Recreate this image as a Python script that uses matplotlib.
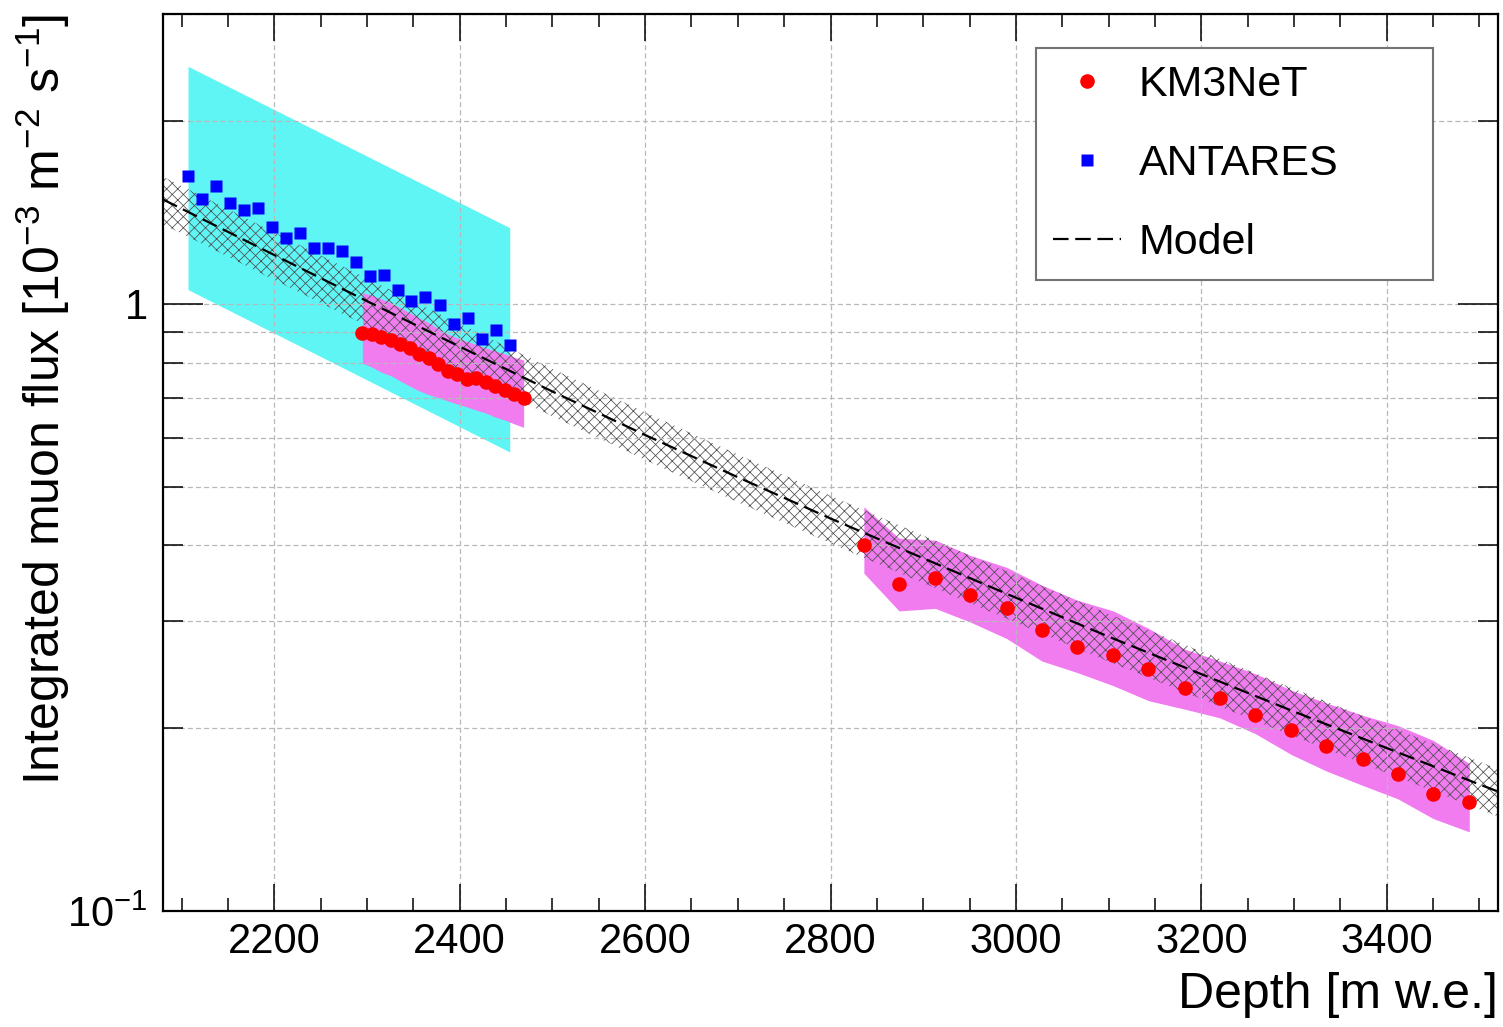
import matplotlib
matplotlib.use('Agg')
import matplotlib.pyplot as plt
from matplotlib.ticker import FixedLocator, FixedFormatter, NullFormatter

plt.rcParams['font.family'] = ['Liberation Sans', 'DejaVu Sans']
plt.rcParams['mathtext.fontset'] = 'custom'
plt.rcParams['mathtext.rm'] = 'Liberation Sans'
plt.rcParams['mathtext.it'] = 'Liberation Sans:italic'
plt.rcParams['mathtext.bf'] = 'Liberation Sans:bold'
plt.rcParams['hatch.linewidth'] = 0.55

# ---------------- data ----------------
# ANTARES
antares_depth = [2107, 2122, 2137, 2152, 2167, 2182, 2198, 2213, 2228, 2243, 2258, 2273,
                 2288, 2303, 2318, 2333, 2348, 2363, 2379, 2394, 2409, 2424, 2439, 2454]
antares_flux = [1.623, 1.489, 1.562, 1.463, 1.426, 1.439, 1.339, 1.282, 1.308, 1.234, 1.234, 1.220,
                1.170, 1.109, 1.115, 1.055, 1.009, 1.024, 0.994, 0.926, 0.947, 0.876, 0.904, 0.856]
antares_band_depth = [2107, 2454]
antares_band_low = [1.055, 0.570]
antares_band_high = [2.46, 1.334]

# KM3NeT (ORCA part)
orca_depth = [2295, 2305, 2315, 2326, 2336, 2346, 2356, 2367, 2377, 2387, 2397, 2408,
              2418, 2428, 2438, 2449, 2459, 2469]
orca_flux = [0.895, 0.891, 0.882, 0.870, 0.859, 0.846, 0.827, 0.814, 0.796, 0.776, 0.767, 0.753,
             0.755, 0.744, 0.731, 0.721, 0.710, 0.699]
orca_low = [0.799, 0.787, 0.772, 0.761, 0.746, 0.732, 0.719, 0.708, 0.700, 0.692, 0.684, 0.676,
            0.668, 0.661, 0.651, 0.643, 0.634, 0.626]
orca_high = [1.043, 1.033, 1.019, 1.004, 0.985, 0.966, 0.948, 0.930, 0.909, 0.892, 0.879, 0.867,
             0.857, 0.846, 0.836, 0.827, 0.816, 0.808]

# KM3NeT (ARCA part)
arca_depth = [2836, 2874, 2913, 2951, 2990, 3028, 3066, 3105, 3143, 3182, 3220, 3258,
              3297, 3335, 3374, 3412, 3450, 3489]
arca_flux = [0.400, 0.345, 0.353, 0.331, 0.315, 0.290, 0.272, 0.264, 0.250, 0.233, 0.224, 0.210,
             0.199, 0.187, 0.178, 0.168, 0.156, 0.151]
arca_low = [0.360, 0.312, 0.315, 0.299, 0.281, 0.258, 0.247, 0.235, 0.222, 0.215, 0.208, 0.196,
            0.181, 0.170, 0.161, 0.153, 0.142, 0.135]
arca_high = [0.463, 0.411, 0.408, 0.385, 0.368, 0.344, 0.325, 0.312, 0.292, 0.270, 0.258, 0.246,
             0.231, 0.220, 0.210, 0.202, 0.191, 0.175]

# Model
model_depth = [2080, 2100, 2200, 2300, 2400, 2500, 2600, 2700, 2800, 2900, 3000, 3100,
               3200, 3300, 3400, 3500, 3520]
model_flux = [1.485, 1.434, 1.203, 1.010, 0.850, 0.717, 0.608, 0.518, 0.443, 0.381, 0.328, 0.283,
              0.2455, 0.213, 0.1855, 0.1616, 0.1573]
model_rel_unc = [0.09] * len(model_depth)

# axis ticks / labels
x_ticks = [2200, 2400, 2600, 2800, 3000, 3200, 3400]
x_minor_ticks = list(range(2100, 3520, 50))
y_ticks = [0.1, 1]
y_tick_labels = [r'$10^{-1}$', '1']
y_minor_ticks = [0.2, 0.3, 0.4, 0.5, 0.6, 0.7, 0.8, 0.9, 2, 3]

# ---------------- plot ----------------
W, H = 1503, 1027
fig = plt.figure(figsize=(W / 100, H / 100), dpi=100)
ax = fig.add_axes([163 / W, (H - 911) / H, 1335 / W, 897 / H])

cyan = '#5ff5f5'
magenta = '#f07cf0'

ax.fill_between(antares_band_depth, antares_band_low, antares_band_high,
                color=cyan, lw=0, zorder=1)
ax.fill_between(orca_depth, orca_low, orca_high, color=magenta, lw=0, zorder=1.1)
ax.fill_between(arca_depth, arca_low, arca_high, color=magenta, lw=0, zorder=1.1)

model_low = [m * (1 - u) for m, u in zip(model_flux, model_rel_unc)]
model_high = [m * (1 + u) for m, u in zip(model_flux, model_rel_unc)]
ax.fill_between(model_depth, model_low, model_high, facecolor='none',
                edgecolor='0.3', hatch='xxx', lw=0, zorder=1.5)

h_model, = ax.plot(model_depth, model_flux, color='black', ls=(0, (7, 3)), lw=1.6,
                   zorder=2.6, label='Model')
h_km3, = ax.plot(orca_depth + arca_depth, orca_flux + arca_flux, 'o', color='red',
                 ms=10.5, mec='none', zorder=4, label='KM3NeT')
h_ant, = ax.plot(antares_depth, antares_flux, 's', color='blue', ms=9, mec='none',
                 zorder=3.5, label='ANTARES')

ax.set_xlim(2080, 3520)
ax.set_yscale('log')
ax.set_ylim(0.1, 3.0)

ax.xaxis.set_major_locator(FixedLocator(x_ticks))
ax.xaxis.set_minor_locator(FixedLocator(x_minor_ticks))
ax.yaxis.set_major_locator(FixedLocator(y_ticks))
ax.yaxis.set_major_formatter(FixedFormatter(y_tick_labels))
ax.yaxis.set_minor_locator(FixedLocator(y_minor_ticks))
ax.yaxis.set_minor_formatter(NullFormatter())

ax.tick_params(axis='x', which='major', direction='in', length=19.4, width=1.1,
               top=True, bottom=True, labelsize=30, pad=8)
ax.tick_params(axis='x', which='minor', direction='in', length=9.7, width=1.1,
               top=True, bottom=True)
ax.tick_params(axis='y', which='major', direction='in', length=28.8, width=1.1,
               left=True, right=True, labelsize=30, pad=11)
ax.tick_params(axis='y', which='minor', direction='in', length=14.4, width=1.1,
               left=True, right=True)

ax.set_axisbelow(False)
grid_kw = dict(ls=(0, (4, 2.5)), color='0.72', lw=0.9)
ax.grid(True, which='major', axis='x', **grid_kw)
ax.grid(True, which='both', axis='y', **grid_kw)

for s in ax.spines.values():
    s.set_linewidth(1.6)
    s.set_zorder(5)

ax.set_xlabel('Depth [m w.e.]', fontsize=36, loc='right')
ax.xaxis.set_label_coords(1.0, -0.068)
ax.set_ylabel(r'Integrated muon flux [10$^{-3}$ m$^{-2}$ s$^{-1}$]', fontsize=36, loc='top')
ax.yaxis.set_label_coords(-0.068, 1.0)

leg = ax.legend([h_km3, h_ant, h_model], ['KM3NeT', 'ANTARES', 'Model'],
                loc='upper left', bbox_to_anchor=(0.654, 0.962, 0.297, 0.0), mode='expand',
                fontsize=31, frameon=True, fancybox=False, edgecolor='0.45', framealpha=1,
                borderaxespad=0, handlelength=1.58, handletextpad=0.4, labelspacing=0.9,
                borderpad=0.4)
leg.get_frame().set_linewidth(1.5)
leg.set_zorder(6)

fig.savefig('out.png', dpi=100)
